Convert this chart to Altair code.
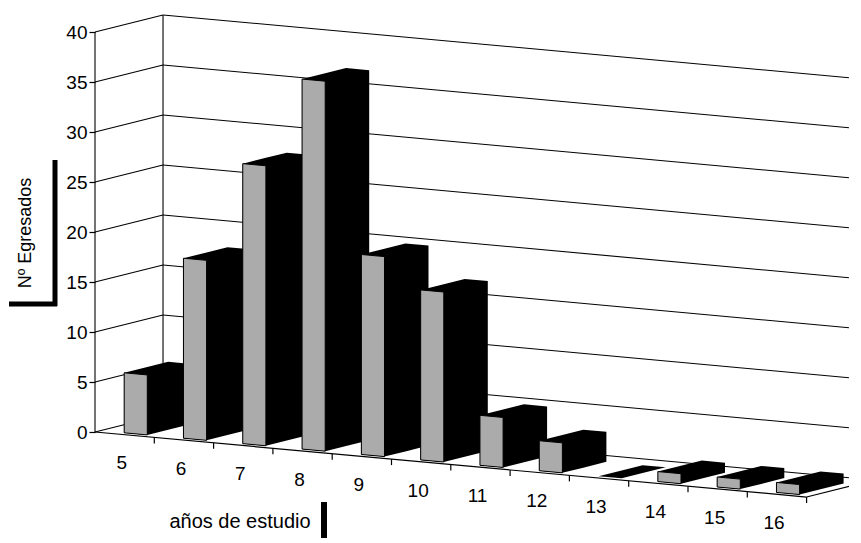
import altair as alt
import pandas as pd

# ---- data ----
categories = ["5", "6", "7", "8", "9", "10", "11", "12", "13", "14", "15", "16"]
values = [6, 18, 28, 37, 20, 17, 5, 3, 0, 1, 1, 1]
y_ticks = [0, 5, 10, 15, 20, 25, 30, 35, 40]
y_title = "Nº Egresados"
x_title = "años de estudio"

# ---- oblique 3-D projection (style constants) ----
SLOPE = 0.542   # floor drop (value units) per category
DX = 1.147      # horizontal shift (category units) for full depth
DY = 1.7        # vertical shift (value units) for full depth
U0, BW = 0.40, 0.39   # bar start inside category, bar width
D0, BD = 0.08, 0.647  # bar front depth, bar depth
N = len(categories)
TOP = max(y_ticks)


def proj(u, v, d):
    return u + DX * d, v - SLOPE * u + DY * d


# bar silhouettes (black) and front faces (grey)
sil_rows, front_rows = [], []
dX, dY = DX * BD, DY * BD
for i, (cat, h) in enumerate(zip(categories, values)):
    a = i + U0
    b = a + BW
    Xa, Ba = proj(a, 0, D0)
    Xb, Bb = proj(b, 0, D0)
    Ta, Tb = Ba + h, Bb + h
    sil_rows += [
        dict(bar=cat, x=Xa, y=Ta, y2=Ba),
        dict(bar=cat, x=Xb, y=Ta + dY * (Xb - Xa) / dX, y2=Bb),
        dict(bar=cat, x=Xa + dX, y=Ta + dY, y2=Bb + dY * (Xa + dX - Xb) / dX),
        dict(bar=cat, x=Xb + dX, y=Tb + dY, y2=Bb + dY),
    ]
    if h > 0:
        front_rows += [dict(bar=cat, x=Xa, y=Ta, y2=Ba),
                       dict(bar=cat, x=Xb, y=Tb, y2=Bb)]
sil = pd.DataFrame(sil_rows)
front = pd.DataFrame(front_rows)

# walls, gridlines and edges
seg = []
for v in y_ticks:
    p0, p1, p2 = proj(0, v, 0), proj(0, v, 1), proj(N, v, 1)
    seg.append(dict(x=p0[0], y=p0[1], x2=p1[0], y2=p1[1]))
    seg.append(dict(x=p1[0], y=p1[1], x2=p2[0], y2=p2[1]))
for (A, B) in [((0, 0, 1), (0, TOP, 1)), ((0, 0, 0), (0, TOP, 0))]:
    p, q = proj(*A), proj(*B)
    seg.append(dict(x=p[0], y=p[1], x2=q[0], y2=q[1]))
grid = pd.DataFrame(seg)

edges = []
for (A, B) in [((0, 0, 0), (N, 0, 0)), ((N, 0, 0), (N, 0, 1))]:
    p, q = proj(*A), proj(*B)
    edges.append(dict(x=p[0], y=p[1], x2=q[0], y2=q[1]))
for k in range(1, N + 1):
    p = proj(k, 0, 0)
    edges.append(dict(x=p[0], y=p[1], x2=p[0], y2=p[1] - 0.6))
edges = pd.DataFrame(edges)

labels = pd.DataFrame([
    dict(label=c, x=proj(i + 0.45, 0, 0)[0], y=proj(i + 0.45, 0, 0)[1] - 2.9)
    for i, c in enumerate(categories)
])

# ---- layout ----
W, H = 754, 526
XMAX = W / 59.3
YTOP = 42.0
YBOT = YTOP - H / 10.0
xs = alt.Scale(domain=[0, XMAX], nice=False, zero=False)
ys = alt.Scale(domain=[YBOT, YTOP], nice=False, zero=False)
FONT = "Liberation Sans"

yaxis = alt.Axis(values=y_ticks, domain=False, grid=False, ticks=True, tickSize=6,
                 tickColor="black", tickWidth=1.2, labelFont=FONT, labelFontSize=19,
                 labelColor="black", labelPadding=2, title=None)

grid_layer = alt.Chart(grid).mark_rule(color="black", strokeWidth=1.1).encode(
    x=alt.X("x:Q", scale=xs, axis=None), y=alt.Y("y:Q", scale=ys, axis=yaxis),
    x2="x2:Q", y2="y2:Q")

sil_layer = alt.Chart(sil).mark_area(color="black", orient="vertical",
                                     interpolate="linear").encode(
    x=alt.X("x:Q", scale=xs), y=alt.Y("y:Q", scale=ys), y2="y2:Q",
    detail="bar:N")

front_layer = alt.Chart(front).mark_area(color="#ababab", stroke="black", strokeWidth=1,
                                         orient="vertical", interpolate="linear").encode(
    x=alt.X("x:Q", scale=xs), y=alt.Y("y:Q", scale=ys), y2="y2:Q",
    detail="bar:N")

edge_layer = alt.Chart(edges).mark_rule(color="black", strokeWidth=1.2).encode(
    x=alt.X("x:Q", scale=xs), y=alt.Y("y:Q", scale=ys), x2="x2:Q", y2="y2:Q")

label_layer = alt.Chart(labels).mark_text(font=FONT, fontSize=19, color="black",
                                          align="center", baseline="middle").encode(
    x=alt.X("x:Q", scale=xs), y=alt.Y("y:Q", scale=ys), text="label:N")

ytitle = alt.Chart(pd.DataFrame({"t": [y_title]})).mark_text(
    font=FONT, fontSize=18, angle=270, align="center", baseline="middle",
    color="black").encode(x=alt.value(-69), y=alt.value(221), text="t:N")
xtitle = alt.Chart(pd.DataFrame({"t": [x_title]})).mark_text(
    font=FONT, fontSize=20, align="center", baseline="middle",
    color="black").encode(x=alt.value(145), y=alt.value(510), text="t:N")

deco = pd.DataFrame({"k": ["a"]})
bar_v = alt.Chart(deco).mark_rule(color="black", strokeWidth=5).encode(
    x=alt.value(-40), x2=alt.value(-40), y=alt.value(148), y2=alt.value(294))
bar_h = alt.Chart(deco).mark_rule(color="black", strokeWidth=5).encode(
    x=alt.value(-86), x2=alt.value(-38), y=alt.value(292), y2=alt.value(292))
bar_x = alt.Chart(deco).mark_rule(color="black", strokeWidth=6).encode(
    x=alt.value(229), x2=alt.value(229), y=alt.value(490), y2=alt.value(526))

chart = alt.layer(grid_layer, sil_layer, front_layer, edge_layer, label_layer,
                  ytitle, xtitle, bar_v, bar_h, bar_x).properties(
    width=W, height=H,
    autosize=alt.AutoSizeParams(type="none"),
    padding={"left": 87, "top": 4, "right": 0, "bottom": 0},
    background="white",
).configure_view(stroke=None)

chart.save("out.html", embed_options={"renderer": "svg", "actions": False})
